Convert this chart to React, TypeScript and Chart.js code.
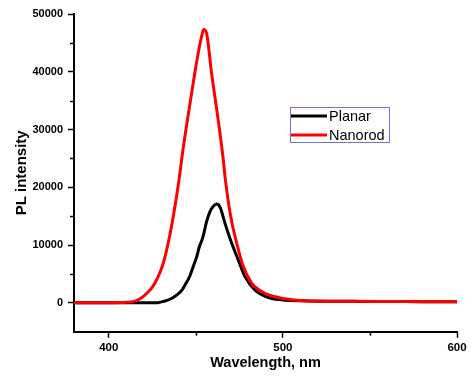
import React, { useEffect, useRef } from "react";
import { Chart, registerables } from "chart.js";

Chart.register(...registerables);

// ---- Data ----
const planarWavelengths = [380, 400, 415, 425, 428, 432, 436, 440, 442, 444, 446.5, 448.5, 450.5, 452, 453.4, 454.5, 456, 458, 460, 462, 464, 466.7, 470.6, 474.4, 478.3, 484, 488.7, 493.6, 500, 510, 520, 540, 560, 580, 600];
const planarValues = [0, 0, 0, 0, 30, 300, 750, 1600, 2200, 3200, 4600, 6300, 8000, 9700, 10800, 11900, 13900, 15700, 16700, 17100, 16500, 13800, 10300, 7400, 4500, 2200, 1300, 760, 500, 350, 280, 250, 220, 200, 180];

const nanorodWavelengths = [380, 400, 410, 415, 418, 422, 425, 428, 431, 433.2, 437, 440, 442.5, 446, 449.5, 452, 453.5, 454.5, 456.2, 459, 462.8, 465.7, 467, 470, 473.5, 477, 482, 486, 490, 495, 500, 505, 510, 520, 540, 560, 580, 600];
const nanorodValues = [0, 20, 80, 300, 700, 1700, 2700, 4300, 6600, 9100, 14900, 20600, 26300, 33300, 40000, 44300, 46400, 47300, 46600, 39800, 31700, 24900, 21200, 15000, 10300, 6500, 3400, 2300, 1600, 1100, 750, 550, 420, 300, 250, 220, 200, 180];

const seriesNames = ["Planar", "Nanorod"];
const seriesColors = ["#000000", "#ff0000"];

const xMajorTicks = [400, 500, 600];
const xMinorTicks = [450, 550];
const yMajorTicks = [0, 10000, 20000, 30000, 40000, 50000];
const yMinorTicks = [5000, 15000, 25000, 35000, 45000];

const FONT = "'Liberation Sans', Arial, sans-serif";

const minorTicksPlugin = {
  id: "minorTicks",
  afterDraw(chart: any) {
    const ctx = chart.ctx;
    const xs = chart.scales.x;
    const ys = chart.scales.y;
    const area = chart.chartArea;
    ctx.save();
    ctx.strokeStyle = "#000";
    ctx.lineWidth = 1.5;
    xMinorTicks.forEach((v) => {
      const px = Math.round(xs.getPixelForValue(v)) + 0.5;
      ctx.beginPath();
      ctx.moveTo(px, area.bottom);
      ctx.lineTo(px, area.bottom + 4);
      ctx.stroke();
    });
    yMinorTicks.forEach((v) => {
      const py = Math.round(ys.getPixelForValue(v)) + 0.5;
      ctx.beginPath();
      ctx.moveTo(area.left - 4, py);
      ctx.lineTo(area.left, py);
      ctx.stroke();
    });
    ctx.restore();
  },
};

const legendPlugin = {
  id: "boxLegend",
  afterDraw(chart: any) {
    const ctx = chart.ctx;
    const left = 290;
    const top = 107;
    const w = 99;
    const h = 35;
    ctx.save();
    ctx.fillStyle = "#ffffff";
    ctx.fillRect(left, top, w, h);
    ctx.strokeStyle = "#7272d6";
    ctx.lineWidth = 1;
    ctx.strokeRect(left + 0.5, top + 0.5, w, h);
    const rows = [116, 135];
    seriesNames.forEach((name, i) => {
      ctx.strokeStyle = seriesColors[i];
      ctx.lineWidth = 3;
      ctx.beginPath();
      ctx.moveTo(left + 1, rows[i]);
      ctx.lineTo(327, rows[i]);
      ctx.stroke();
      ctx.fillStyle = "#000";
      ctx.font = `14.5px ${FONT}`;
      ctx.textBaseline = "middle";
      ctx.textAlign = "left";
      ctx.fillText(name, 329, rows[i] + 0.5);
    });
    ctx.restore();
  },
};

export default function App() {
  const ref = useRef<HTMLCanvasElement | null>(null);

  useEffect(() => {
    if (!ref.current) return;
    const planarData = planarWavelengths.map((x, i) => ({ x, y: planarValues[i] }));
    const nanorodData = nanorodWavelengths.map((x, i) => ({ x, y: nanorodValues[i] }));
    const chart = new Chart(ref.current, {
      type: "line",
      data: {
        datasets: [
          {
            label: seriesNames[0],
            data: planarData,
            borderColor: seriesColors[0],
            borderWidth: 3,
            pointRadius: 0,
            cubicInterpolationMode: "monotone",
            order: 2,
          },
          {
            label: seriesNames[1],
            data: nanorodData,
            borderColor: seriesColors[1],
            borderWidth: 3,
            pointRadius: 0,
            cubicInterpolationMode: "monotone",
            order: 1,
          },
        ],
      },
      options: {
        animation: false,
        responsive: false,
        devicePixelRatio: 1,
        layout: { padding: { left: 9, right: 17, top: 14, bottom: 15 } },
        plugins: {
          legend: { display: false },
          tooltip: { enabled: false },
        },
        scales: {
          x: {
            type: "linear",
            min: 380,
            max: 600,
            afterBuildTicks: (scale: any) => {
              scale.ticks = xMajorTicks.map((v) => ({ value: v }));
            },
            afterFit: (scale: any) => {
              scale.height = 40.3;
            },
            border: { display: true, color: "#000", width: 2 },
            grid: {
              display: true,
              drawOnChartArea: false,
              drawTicks: true,
              tickLength: 6,
              tickWidth: 1.5,
              tickColor: "#000",
            },
            ticks: {
              color: "#000",
              padding: 3,
              maxRotation: 0,
              font: { family: FONT, size: 11.5, weight: "bold" },
              callback: (v: any) => String(v),
            },
            title: {
              display: true,
              text: "Wavelength, nm",
              color: "#000",
              padding: { top: 0, bottom: 0 },
              font: { family: FONT, size: 14.5, weight: "bold" },
            },
          },
          y: {
            type: "linear",
            min: -5000,
            max: 50000,
            afterBuildTicks: (scale: any) => {
              scale.ticks = yMajorTicks.map((v) => ({ value: v }));
            },
            afterFit: (scale: any) => {
              scale.width = 65;
            },
            border: { display: true, color: "#000", width: 2 },
            grid: {
              display: true,
              drawOnChartArea: false,
              drawTicks: true,
              tickLength: 6,
              tickWidth: 1.5,
              tickColor: "#000",
            },
            ticks: {
              color: "#000",
              padding: 5,
              font: { family: FONT, size: 11, weight: "bold" },
              callback: (v: any) => String(v),
            },
            title: {
              display: true,
              text: "PL intensity",
              color: "#000",
              padding: { top: 4, bottom: 4 },
              font: { family: FONT, size: 15, weight: "bold" },
            },
          },
        },
      },
      plugins: [minorTicksPlugin, legendPlugin],
    } as any);
    return () => chart.destroy();
  }, []);

  return (
    <div style={{ position: "absolute", left: 0, top: 0, width: 474, height: 387, background: "#fff" }}>
      <canvas ref={ref} width={474} height={387} />
    </div>
  );
}
